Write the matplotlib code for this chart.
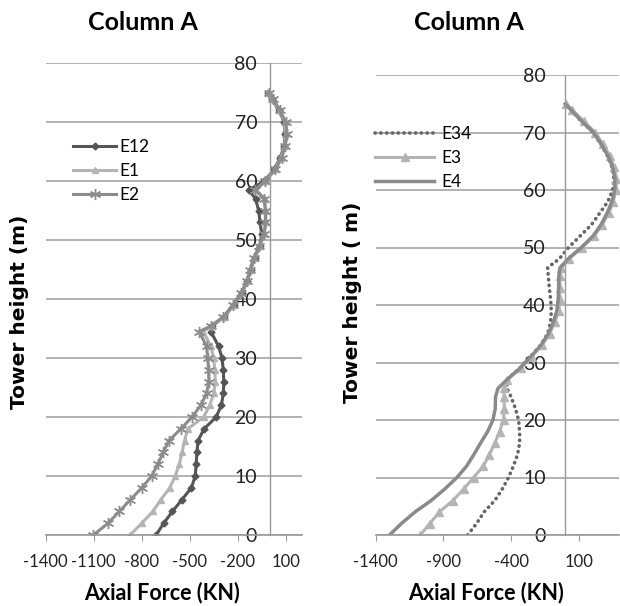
import matplotlib
matplotlib.use("Agg")
from matplotlib import pyplot as plt

# hoogte (m) en axiale kracht (kN)
h_left = [0, 2, 4, 6, 8, 10, 12, 14, 16, 18, 20, 22, 24, 26, 28, 30, 32, 34.5, 35.5, 37,
          39, 41, 43, 45, 47, 49, 51, 53, 55, 57, 58.5, 60, 62, 64, 66, 68, 70, 72, 74, 75]
e12 = [-710, -662, -608, -548, -490, -465, -460, -455, -448, -410, -335, -302, -290, -287, -290,
       -298, -319, -368, -358, -285, -225, -175, -140, -118, -95, -60, -50, -60, -69, -88,
       -131, -35, 28, 66, 90, 98, 92, 58, 12, -10]
e1 = [-872, -800, -730, -680, -625, -590, -565, -548, -532, -512, -413, -375, -350, -340, -343,
      -351, -367, -415, -362, -288, -228, -178, -143, -120, -98, -62, -33, -24, -24, -30,
      -88, -30, 32, 70, 93, 102, 95, 60, 15, -8]
e2 = [-1102, -1010, -940, -870, -800, -737, -700, -665, -630, -555, -486, -430, -395, -380, -382,
      -388, -395, -440, -365, -290, -230, -180, -145, -122, -100, -65, -35, -27, -27, -35,
      -90, -27, 36, 75, 98, 108, 100, 65, 20, -5]

h_right = [0, 2, 4, 6, 8, 10, 12, 14, 16, 18, 20, 22, 24, 25.5, 27, 29, 31, 33, 35, 37,
           39, 41, 43, 45, 46.5, 48, 50, 52, 54, 56, 58, 60, 62, 64, 66, 68, 70, 72, 74, 75]
e34 = [-721, -655, -600, -520, -465, -419, -383, -352, -337, -337, -345, -368, -400, -430, -431,
       -338, -258, -182, -130, -108, -103, -108, -118, -125, -130, -45, 24, 110, 195, 255,
       315, 350, 360, 345, 310, 262, 205, 118, 38, -2]
e3 = [-1071, -1000, -930, -830, -750, -677, -605, -560, -520, -485, -456, -450, -452, -450, -428,
      -330, -248, -172, -115, -76, -48, -40, -40, -40, -30, 25, 125, 215, 275, 322,
      355, 375, 378, 362, 328, 278, 222, 135, 50, 5]
e4 = [-1298, -1210, -1110, -990, -890, -800, -728, -675, -625, -573, -534, -517, -515, -497, -431,
      -335, -255, -180, -125, -88, -62, -52, -49, -47, -38, 20, 118, 205, 265, 310,
      345, 365, 368, 350, 315, 265, 209, 120, 40, 0]

xticks_left = [-1400, -1100, -800, -500, -200, 100]
xticks_right = [-1400, -900, -400, 100]
yticks = [0, 10, 20, 30, 40, 50, 60, 70, 80]

plt.rcParams['font.family'] = ['Lato', 'DejaVu Sans']
plt.rcParams['axes.unicode_minus'] = False

fig = plt.figure(figsize=(6.2, 6.06), dpi=100)
W, H = 620, 606
ax1 = fig.add_axes([45.7 / W, 1 - 535 / H, 256 / W, (535 - 63.3) / H])
ax2 = fig.add_axes([375.7 / W, 1 - 535 / H, 243.7 / W, (535 - 75) / H])

ax1.plot(e12, h_left, color='#555555', lw=2.2, marker='D', ms=3.5, label='E12')
ax1.plot(e1, h_left, color='#b4b4b4', lw=2.2, marker='^', ms=5, label='E1')
ax1.plot(e2, h_left, color='#8c8c8c', lw=2.2, marker=(6, 2, 0), ms=8, mew=1, label='E2')

ax2.plot(e34, h_right, color='#666666', lw=2.6, ls=(0, (0.1, 1.5)), dash_capstyle='round', label='E34')
ax2.plot(e3, h_right, color='#b4b4b4', lw=2.2, marker='^', ms=6, label='E3')
ax2.plot(e4, h_right, color='#8a8a8a', lw=2.5, label='E4')

for ax, xt, xl, ypad in [(ax1, xticks_left, (-1400, 200), 9), (ax2, xticks_right, (-1400, 400), 14)]:
    ax.set_xlim(xl)
    ax.set_ylim(0, 80)
    ax.set_xticks(xt)
    ax.set_yticks(yticks)
    ax.spines['top'].set_visible(False)
    ax.spines['right'].set_visible(False)
    ax.spines['left'].set_position(('data', 0))
    ax.spines['left'].set_color('#999999')
    ax.spines['bottom'].set_color('#999999')
    ax.spines['left'].set_linewidth(1.0)
    ax.spines['bottom'].set_linewidth(1.2)
    ax.yaxis.grid(True, color='#a6a6a6', lw=1.2)
    ax.set_axisbelow(True)
    ax.tick_params(axis='y', length=0, pad=ypad, labelsize=14, labelcolor='#222222')
    ax.tick_params(axis='x', length=4, direction='out', color='#999999', pad=10,
                   labelsize=12, labelcolor='#222222')

ax1.legend(loc='upper left', bbox_to_anchor=(73 / W, 1 - 139 / H), bbox_transform=fig.transFigure,
           frameon=False, fontsize=12.5, handlelength=2.5, handletextpad=0.15, labelspacing=0.45,
           borderpad=0, borderaxespad=0, numpoints=1)
ax2.legend(loc='upper left', bbox_to_anchor=(375 / W, 1 - 126 / H), bbox_transform=fig.transFigure,
           frameon=False, fontsize=12.5, handlelength=3.4, handletextpad=0.4, labelspacing=0.45,
           borderpad=0, borderaxespad=0, numpoints=1)

fig.text(143 / W, 1 - 23 / H, 'Column A', ha='center', va='center', fontsize=18, fontweight='bold')
fig.text(469 / W, 1 - 23 / H, 'Column A', ha='center', va='center', fontsize=18, fontweight='bold')
fig.text(162 / W, 1 - 593 / H, 'Axial Force (KN)', ha='center', va='center', fontsize=15.5, fontweight='bold')
fig.text(486 / W, 1 - 593 / H, 'Axial Force (KN)', ha='center', va='center', fontsize=15.5, fontweight='bold')
fig.text(20 / W, 1 - 312 / H, 'Tower height (m)', ha='center', va='center', rotation=90,
         fontsize=14.5, fontweight='bold', family='DejaVu Sans')
fig.text(352 / W, 1 - 302 / H, 'Tower height ( m)', ha='center', va='center', rotation=90,
         fontsize=14.5, fontweight='bold', family='DejaVu Sans')

fig.savefig('out.png', dpi=100)
